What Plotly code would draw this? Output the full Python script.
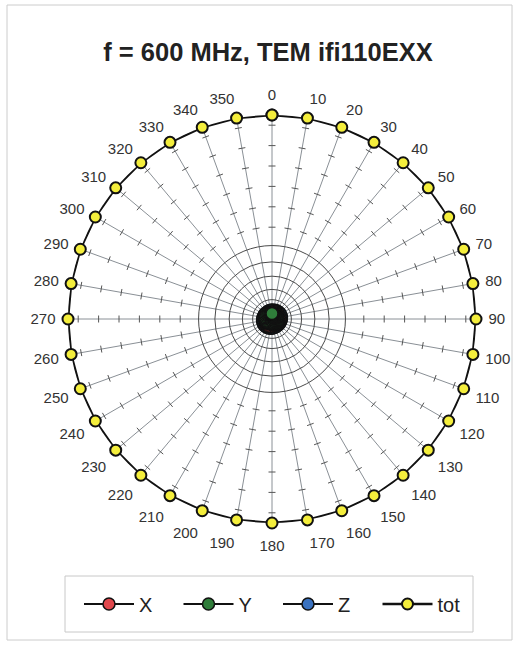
import numpy as np
import plotly.graph_objects as go

# ---- data ----
angles = list(range(0, 360, 10))
angle_labels = [str(a) for a in angles]
tot_values = [1.0] * 36
x_values = [0.034, 0.036, 0.038, 0.039, 0.037, 0.035, 0.033, 0.034, 0.036, 0.039,
            0.041, 0.040, 0.038, 0.036, 0.034, 0.032, 0.031, 0.033, 0.035, 0.037,
            0.039, 0.041, 0.040, 0.038, 0.036, 0.035, 0.033, 0.032, 0.031, 0.032,
            0.034, 0.035, 0.036, 0.035, 0.034, 0.034]
y_values = [0.027, 0.025, 0.023, 0.021, 0.020, 0.021, 0.023, 0.025, 0.027, 0.029,
            0.030, 0.031, 0.031, 0.032, 0.031, 0.030, 0.028, 0.026, 0.025, 0.024,
            0.023, 0.025, 0.026, 0.028, 0.030, 0.031, 0.033, 0.035, 0.036, 0.036,
            0.036, 0.034, 0.032, 0.031, 0.029, 0.028]
z_values = [0.043, 0.043, 0.045, 0.046, 0.047, 0.048, 0.048, 0.048, 0.047, 0.046,
            0.045, 0.044, 0.043, 0.043, 0.042, 0.043, 0.043, 0.044, 0.045, 0.046,
            0.047, 0.048, 0.048, 0.049, 0.048, 0.048, 0.047, 0.046, 0.045, 0.044,
            0.043, 0.043, 0.042, 0.042, 0.043, 0.043]
# (name, values, colour, legend rank) - drawn Z, X, Y, tot so Y shows on top like the original
series = [("Z", z_values, "#3a72c0", 3), ("X", x_values, "#e0474c", 1),
          ("Y", y_values, "#2f7d3a", 2), ("tot", tot_values, "#f4ee3c", 4)]

inner_circles = [0.095, 0.145, 0.21, 0.28, 0.36]
spoke_ticks = [0.45, 0.55, 0.65, 0.75, 0.85, 0.95]

R_PX = 204.0
FONT = "Liberation Sans, Arial, sans-serif"

fig = go.Figure()

# tick marks across every spoke
tr, tt = [], []
half = 3.5 / R_PX
for a in angles:
    for r in spoke_ticks:
        d = np.degrees(half / r)
        rr = float(np.hypot(r, half))
        tr += [rr, rr, None]
        tt += [a - d, a + d, None]
fig.add_trace(go.Scatterpolar(r=tr, theta=tt, mode="lines",
                              line=dict(color="#555555", width=1),
                              showlegend=False, hoverinfo="skip", cliponaxis=False))

for name, vals, col, rank in series:
    is_tot = name == "tot"
    fig.add_trace(go.Scatterpolar(
        r=vals + vals[:1], theta=angles + angles[:1], name=name, legendrank=rank,
        mode="lines+markers", cliponaxis=False,
        line=dict(color="#111111", width=2.5 if is_tot else 1.8),
        marker=dict(size=11 if is_tot else 12, color=col,
                    line=dict(color="#111111", width=2 if is_tot else 1.5)),
    ))

W, H = 532, 646
cx, cy = 272, 319
fig.update_layout(
    width=W, height=H,
    margin=dict(l=0, r=0, t=0, b=0, autoexpand=False),
    paper_bgcolor="white", plot_bgcolor="white",
    font=dict(family=FONT, color="#333333"),
    title=dict(text="<b>f = 600 MHz, TEM ifi110EXX</b>", x=268 / W, xanchor="center",
               y=1 - 52 / H, yanchor="middle",
               font=dict(size=25.5, color="#222222", family=FONT)),
    polar=dict(
        domain=dict(x=[(cx - R_PX) / W, (cx + R_PX) / W],
                    y=[1 - (cy + R_PX) / H, 1 - (cy - R_PX) / H]),
        bgcolor="rgba(0,0,0,0)",
        angularaxis=dict(rotation=90, direction="clockwise",
                         tickmode="array", tickvals=angles, ticktext=angle_labels,
                         showline=False, showgrid=True, gridcolor="#8a9096", gridwidth=1,
                         ticks="outside", ticklen=9, tickcolor="rgba(0,0,0,0)",
                         tickfont=dict(size=15, color="#333333", family=FONT)),
        radialaxis=dict(range=[0, 1], tickmode="array", tickvals=inner_circles,
                        showticklabels=False, ticks="", showline=False,
                        gridcolor="#4a4a4a", gridwidth=1),
    ),
    legend=dict(orientation="h", x=278 / W, xanchor="center", y=1 - 604 / H, yanchor="middle",
                borderwidth=0, bgcolor="rgba(0,0,0,0)",
                font=dict(size=20, color="#222222", family=FONT),
                itemwidth=50, entrywidth=34.5, entrywidthmode="pixels"),
    shapes=[
        dict(type="rect", xref="paper", yref="paper",
             x0=7 / W, x1=512 / W, y0=1 - 640 / H, y1=1 - 5 / H,
             line=dict(color="#cccccc", width=1), fillcolor="rgba(0,0,0,0)", layer="below"),
        dict(type="rect", xref="paper", yref="paper",
             x0=65 / W, x1=473 / W, y0=1 - 632 / H, y1=1 - 576 / H,
             line=dict(color="#c8c8c8", width=1), fillcolor="rgba(0,0,0,0)", layer="below"),
    ],
)

fig.write_html("out.html", config={"displayModeBar": False},
               post_script="document.body.style.margin='0';document.body.style.overflow='hidden';")
